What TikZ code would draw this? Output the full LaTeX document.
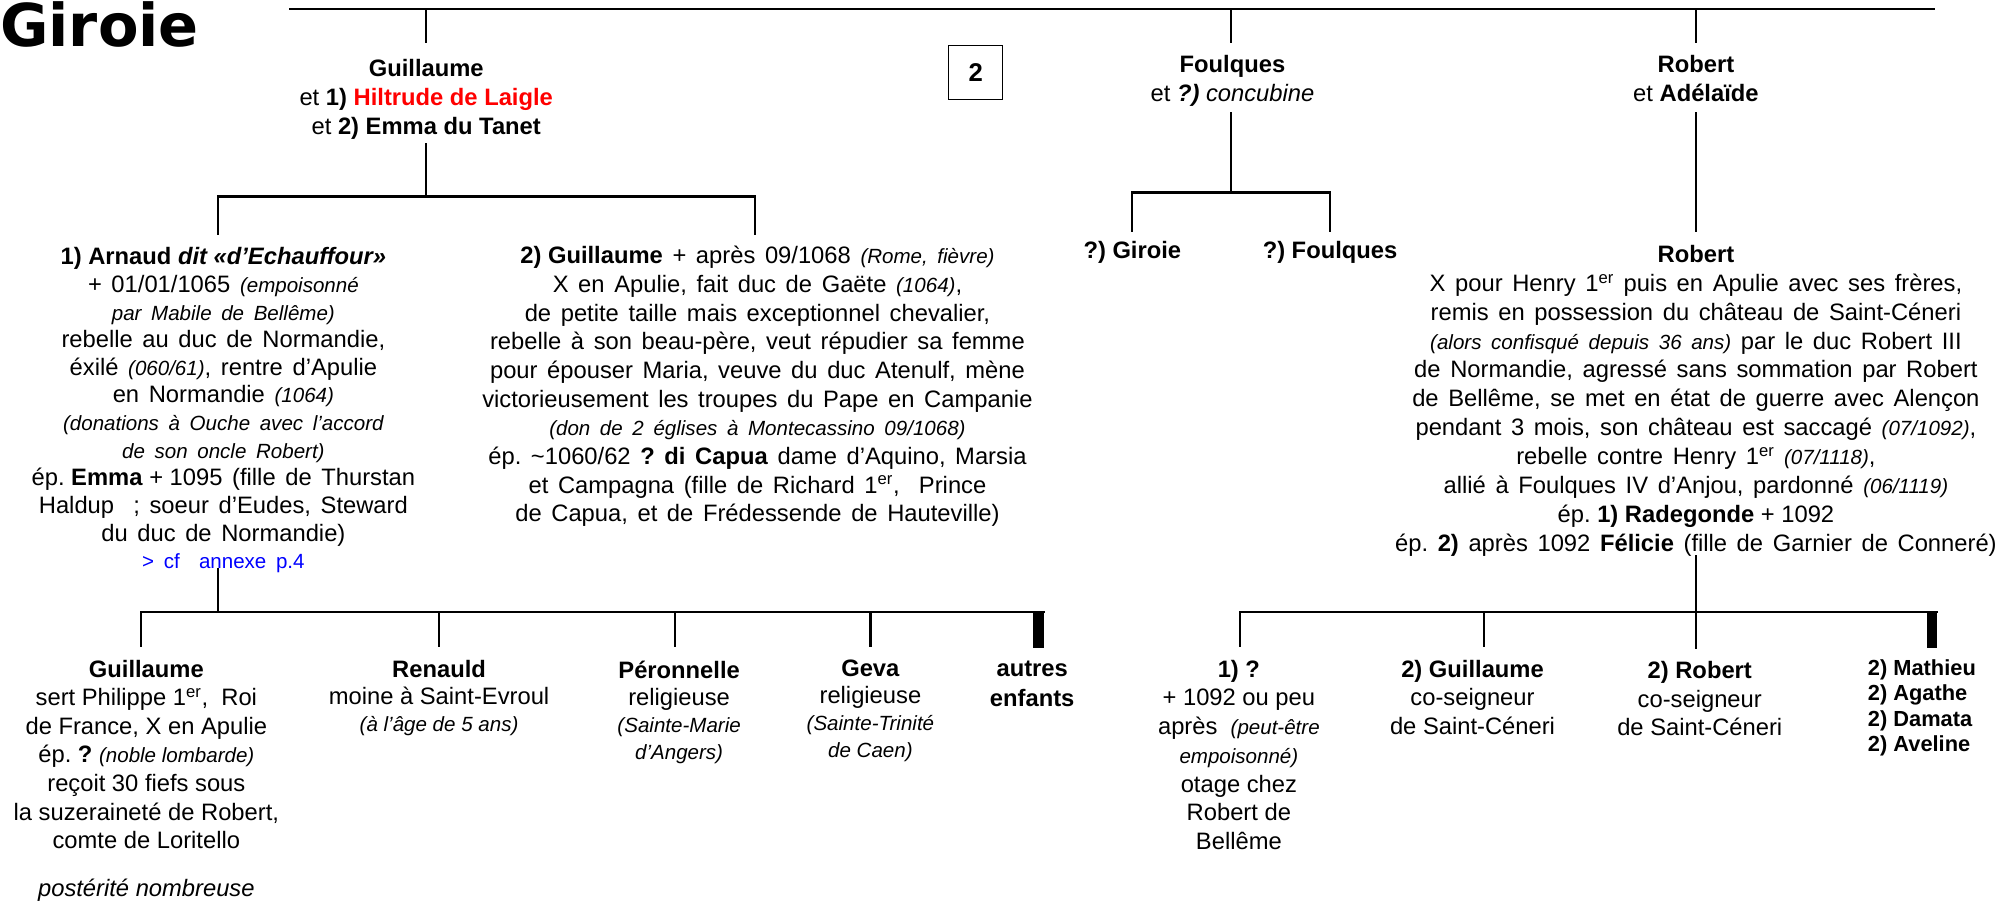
\documentclass[tikz,border=0pt]{standalone}
\usepackage{fontspec}
\setmainfont{Liberation Sans}
\newfontfamily\titlefont{DejaVu Sans}
\frenchspacing
\definecolor{namered}{RGB}{255,0,0}
\definecolor{linkblue}{RGB}{0,0,255}
\newcommand\smi[1]{{\fontsize{16}{16}\selectfont\itshape #1}}
\newcommand\supx[1]{\textsuperscript{#1}}
\newcommand\widesp{\spaceskip=7.5pt plus 2pt minus 1pt\relax}
\newcommand\natsp[1]{{\spaceskip=0pt\relax #1}}
\begin{document}
\begin{tikzpicture}[x=1pt,y=-1pt,
  lbl/.style={align=center, inner sep=0pt, outer sep=0pt, anchor=north, font=\fontsize{18.5}{22.3}\selectfont},
  blk/.style={lbl, font=\fontsize{18.5}{21.5}\selectfont\widesp},
  wblk/.style={lbl, font=\fontsize{18.5}{22.3}\selectfont\widesp},
  rkid/.style={lbl, font=\fontsize{18.5}{22.4}\selectfont},
  link/.style={line width=1.7pt, line cap=rect},
  bar/.style={line width=8pt},
]
\useasboundingbox (0,0) rectangle (1568,703);

% title
\node[anchor=base west, inner sep=0pt, font={\titlefont\bfseries\fontsize{46}{46}\selectfont}] (title) at (0,36.3) {Giroie};

% first generation
\node[lbl, font=\fontsize{18.5}{22.5}\selectfont] (guil) at (332,46) {\textbf{Guillaume}\\et \textbf{1) \textcolor{namered}{Hiltrude de Laigle}}\\et \textbf{2) Emma du Tanet}};
\node[lbl, font=\fontsize{18.5}{23}\selectfont] (foul) at (960,43) {\textbf{Foulques}\\et \textit{\textbf{?)} concubine}};
\node[lbl, font=\fontsize{18.5}{23}\selectfont] (robt) at (1321,43) {\textbf{Robert}\\et \textbf{Adélaïde}};
\node[draw, line width=0.8pt, inner sep=0pt, minimum width=42pt, minimum height=42pt, font=\bfseries\fontsize{20}{20}\selectfont] (box2) at (760,56.5) {2};

% second generation
\node[blk] (arn) at (174,193) {\natsp{\textbf{1) Arnaud \textit{dit «d’Echauffour»}}}\\
+ 01/01/1065 \smi{(empoisonné}\\
\smi{par Mabile de Bellême)}\\
rebelle au duc de Normandie,\\
éxilé \smi{(060/61)}, rentre d’Apulie\\
en Normandie \smi{(1064)}\\
\smi{(donations à Ouche avec l’accord}\\
\smi{de son oncle Robert)}\\
\natsp{ép. \textbf{Emma} + 1095} (fille de Thurstan\\
Haldup\ \ ; soeur d’Eudes, Steward\\
du duc de Normandie)\\
{\fontsize{16}{16}\selectfont\color{linkblue}> cf\ \ annexe p.4}};

\node[wblk] (gui2) at (590,192) {\natsp{\textbf{2) Guillaume}} + après 09/1068 \smi{(Rome, fièvre)}\\
X en Apulie, fait duc de Gaëte \smi{(1064)},\\
de petite taille mais exceptionnel chevalier,\\
rebelle à son beau-père, veut répudier sa femme\\
pour épouser Maria, veuve du duc Atenulf, mène\\
victorieusement les troupes du Pape en Campanie\\
\smi{(don de 2 églises à Montecassino 09/1068)}\\
ép. \textasciitilde1060/62 \textbf{? di Capua} dame d’Aquino, Marsia\\
et Campagna (fille de Richard 1\supx{er},\ \ Prince\\
de Capua, et de Frédessende de Hauteville)};

\node[lbl] (fgir) at (882,188) {\textbf{?) Giroie}};
\node[lbl] (ffou) at (1036,188) {\textbf{?) Foulques}};

\node[wblk, font=\fontsize{18.5}{22.5}\selectfont\widesp] (rob2) at (1321,191) {\textbf{Robert}\\
X pour Henry 1\supx{er} puis en Apulie avec ses frères,\\
remis en possession du château de Saint-Céneri\\
\smi{(alors confisqué depuis 36 ans)} par le duc Robert III\\
de Normandie, agressé sans sommation par Robert\\
de Bellême, se met en état de guerre avec Alençon\\
pendant 3 mois, son château est saccagé \smi{(07/1092)},\\
rebelle contre Henry 1\supx{er} \smi{(07/1118)},\\
allié à Foulques IV d’Anjou, pardonné \smi{(06/1119)}\\
\natsp{ép. \textbf{1) Radegonde} + 1092}\\
ép. \textbf{2)} après 1092 \textbf{Félicie} (fille de Garnier de Conneré)};

% third generation (Arnaud)
\node[lbl] (c1) at (114,514) {\textbf{Guillaume}\\
sert Philippe 1\supx{er},\ \ Roi\\
de France, X en Apulie\\
ép. \textbf{?}\ \smi{(noble lombarde)}\\
reçoit 30 fiefs sous\\
la suzeraineté de Robert,\\
comte de Loritello};
\node[lbl] (post) at (114,685) {\textit{postérité nombreuse}};
\node[lbl, font=\fontsize{18.5}{21}\selectfont] (c2) at (342,514) {\textbf{Renauld}\\moine à Saint-Evroul\\\smi{(à l’âge de 5 ans)}};
\node[lbl, font=\fontsize{18.5}{21}\selectfont] (c3) at (529,515) {\textbf{Péronnelle}\\religieuse\\\smi{(Sainte-Marie}\\\smi{d’Angers)}};
\node[lbl, font=\fontsize{18.5}{21}\selectfont] (c4) at (678,514) {\textbf{Geva}\\religieuse\\\smi{(Sainte-Trinité}\\\smi{de Caen)}};
\node[lbl, font=\fontsize{18.5}{23}\selectfont] (c5) at (804,515) {\textbf{autres}\\\textbf{enfants}};

% third generation (Robert)
\node[rkid] (r1) at (965,514) {\textbf{1) ?}\\
+ 1092 ou peu\\
après\ \ \smi{(peut-être}\\
\smi{empoisonné)}\\
otage chez\\
Robert de\\
Bellême};
\node[rkid] (r2) at (1147,514) {\textbf{2) Guillaume}\\co-seigneur\\de Saint-Céneri};
\node[rkid] (r3) at (1324,515) {\textbf{2) Robert}\\co-seigneur\\de Saint-Céneri};
\node[lbl, anchor=north west, align=left, font=\bfseries\fontsize{17}{19.7}\selectfont] (r4) at (1455,514) {2) Mathieu\\2) Agathe\\2) Damata\\2) Aveline};

% connectors
\coordinate (t1) at (226,7);
\coordinate (t2) at (1506,7);
\draw[link] (t1) -- (t2);
\draw[link] (guil.north |- t1) -- (guil.north |- 0,33);
\coordinate (fx) at (959,0);
\draw[link] (fx |- t1) -- (fx |- 0,33);
\draw[link] (robt.north |- t1) -- (robt.north |- 0,33);

\coordinate (b2) at (0,153);
\coordinate (ax) at (170,0);
\coordinate (gx) at (588,0);
\draw[link] (guil.south |- 0,112) -- (guil.south |- b2);
\draw[link] (ax |- b2) -- (gx |- b2);
\draw[link] (ax |- b2) -- (ax |- 0,182);
\draw[link] (gx |- b2) -- (gx |- 0,182);

\coordinate (b5) at (0,150);
\draw[link] (fx |- 0,88) -- (fx |- b5);
\draw[link] (fgir.north |- b5) -- (ffou.north |- b5);
\draw[link] (fgir.north |- b5) -- (fgir.north |- 0,180);
\draw[link] (ffou.north |- b5) -- (ffou.north |- 0,180);

\draw[link] (robt.south |- 0,88) -- (rob2.north |- 0,180);

\coordinate (b3) at (0,477);
\coordinate (k1) at (110,477);
\coordinate (k5) at (813,477);
\draw[link] (ax |- 0,443) -- (ax |- b3);
\draw[link] (k1) -- (k5);
\draw[link] (k1) -- (k1 |- 0,503);
\foreach \n in {c2,c4} \draw[link] (\n.north |- b3) -- (\n.north |- 0,503);
\coordinate (k3) at (526,477);
\draw[link] (k3) -- (k3 |- 0,503);
\coordinate (k5b) at (809,476.2);
\draw[bar] (k5b) -- (k5b |- 0,504.5);

\coordinate (m1) at (966,477);
\coordinate (m2) at (1156,477);
\coordinate (m5) at (1508.5,477);
\draw[link] (m1) -- (m5);
\draw[link] (rob2.south |- 0,433) -- (rob2.south |- 0,505);
\draw[link] (m1) -- (m1 |- 0,503);
\draw[link] (m2) -- (m2 |- 0,503);
\coordinate (m5b) at (1504.8,476.2);
\draw[bar] (m5b) -- (m5b |- 0,504.5);
\end{tikzpicture}
\end{document}
